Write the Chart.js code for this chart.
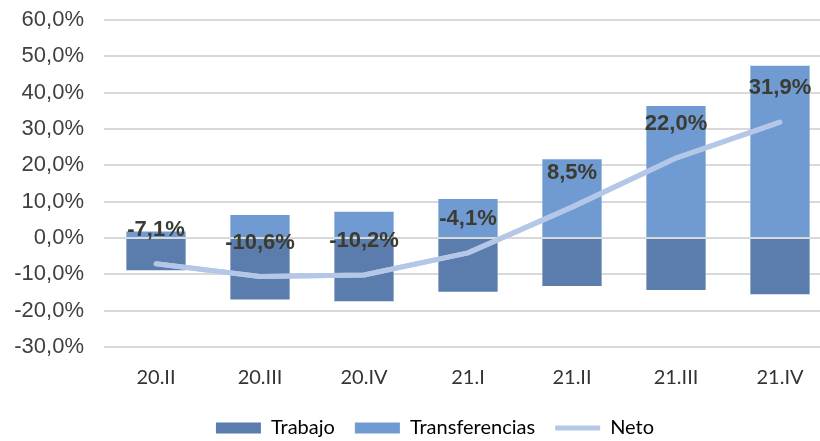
<!DOCTYPE html>
<html>
<head>
<meta charset="utf-8">
<script src="https://cdn.jsdelivr.net/npm/chart.js@4.4.1/dist/chart.umd.min.js"></script>
<style>
  html, body { margin: 0; padding: 0; background: #fff; overflow: hidden; }
  #wrap { width: 870px; height: 456px; }
</style>
</head>
<body>
<div id="wrap"><canvas id="chart" width="870" height="456"></canvas></div>
<script>
// datos
const trimestres = ['20.II', '20.III', '20.IV', '21.I', '21.II', '21.III', '21.IV'];
const trabajo = [-8.9, -16.9, -17.4, -14.8, -13.2, -14.3, -15.5];
const transferencias = [1.8, 6.3, 7.2, 10.7, 21.7, 36.3, 47.4];
const neto = [-7.1, -10.6, -10.2, -4.1, 8.5, 22.0, 31.9];
const yMin = -30, yMax = 60, yStep = 10;

const fmt = v => v.toFixed(1).replace('.', ',') + '%';

// línea del cero y etiquetas del neto
const extras = {
  id: 'extras',
  afterDatasetsDraw(chart) {
    const ctx = chart.ctx;
    const y = chart.scales.y;
    const area = chart.chartArea;
    const y0 = y.getPixelForValue(0);
    ctx.save();
    ctx.strokeStyle = '#d9d9d9';
    ctx.lineWidth = 2;
    ctx.beginPath();
    ctx.moveTo(area.left, y0);
    ctx.lineTo(area.right, y0);
    ctx.stroke();

    // redibujar la línea encima del eje
    const meta = chart.getDatasetMeta(2);
    ctx.strokeStyle = '#b4c7e7';
    ctx.lineWidth = 5;
    ctx.lineJoin = 'round';
    ctx.lineCap = 'round';
    ctx.beginPath();
    meta.data.forEach((p, i) => i ? ctx.lineTo(p.x, p.y) : ctx.moveTo(p.x, p.y));
    ctx.stroke();

    ctx.font = 'bold 22px "Liberation Sans", Arial, sans-serif';
    ctx.fillStyle = '#3b3b30';
    ctx.textAlign = 'center';
    ctx.textBaseline = 'middle';
    meta.data.forEach((p, i) => {
      ctx.fillText(fmt(neto[i]), p.x, p.y - 34);
    });
    ctx.restore();
  }
};

new Chart(document.getElementById('chart'), {
  type: 'bar',
  data: {
    labels: trimestres,
    datasets: [
      {
        label: 'Trabajo',
        data: trabajo,
        backgroundColor: '#5b7dae',
        borderWidth: 0,
        stack: 'barras',
        order: 1
      },
      {
        label: 'Transferencias',
        data: transferencias,
        backgroundColor: '#709ad2',
        borderWidth: 0,
        stack: 'barras',
        order: 1
      },
      {
        type: 'line',
        label: 'Neto',
        data: neto,
        borderColor: '#b4c7e7',
        backgroundColor: '#b4c7e7',
        borderWidth: 5,
        pointRadius: 0,
        tension: 0,
        stack: 'neto',
        order: 0,
        pointStyle: 'line'
      }
    ]
  },
  options: {
    responsive: false,
    animation: false,
    devicePixelRatio: 1,
    layout: { padding: { left: 0, right: 0, top: 20, bottom: 8 } },
    datasets: {
      bar: { barPercentage: 0.57, categoryPercentage: 1 }
    },
    plugins: {
      tooltip: { enabled: false },
      legend: {
        position: 'bottom',
        labels: {
          usePointStyle: true,
          pointStyleWidth: 45,
          boxHeight: 11,
          padding: 20,
          color: '#333',
          font: { family: 'Lato, "Liberation Sans", sans-serif', size: 20 },
          generateLabels(chart) {
            return chart.data.datasets.map((ds, i) => ({
              text: ds.label,
              fillStyle: ds.backgroundColor,
              strokeStyle: ds.type === 'line' ? ds.borderColor : ds.backgroundColor,
              lineWidth: ds.type === 'line' ? 5 : 0,
              pointStyle: ds.type === 'line' ? 'line' : 'rect',
              datasetIndex: i,
              hidden: false
            }));
          }
        }
      }
    },
    scales: {
      x: {
        stacked: true,
        grid: { display: false },
        border: { display: false },
        ticks: {
          padding: 11,
          color: '#333',
          font: { family: 'Lato, "Liberation Sans", sans-serif', size: 20 }
        },
        afterFit(scale) { scale.height = 51; }
      },
      y: {
        stacked: true,
        min: yMin,
        max: yMax,
        grid: { color: '#d9d9d9', lineWidth: 2, drawTicks: false },
        border: { display: false },
        ticks: {
          stepSize: yStep,
          padding: 20,
          color: '#404040',
          font: { family: '"Liberation Sans", Arial, sans-serif', size: 22 },
          callback: v => fmt(v)
        },
        afterFit(scale) {
          scale.width = 104;
          scale.paddingTop = 0;
          scale.paddingBottom = 0;
        }
      },
      // eje vacío a la derecha para centrar la leyenda como en el original
      yDer: {
        position: 'right',
        min: yMin,
        max: yMax,
        grid: { display: false },
        border: { display: false },
        ticks: { display: false },
        afterFit(scale) { scale.width = 38; }
      }
    }
  },
  plugins: [extras]
});
</script>
</body>
</html>
